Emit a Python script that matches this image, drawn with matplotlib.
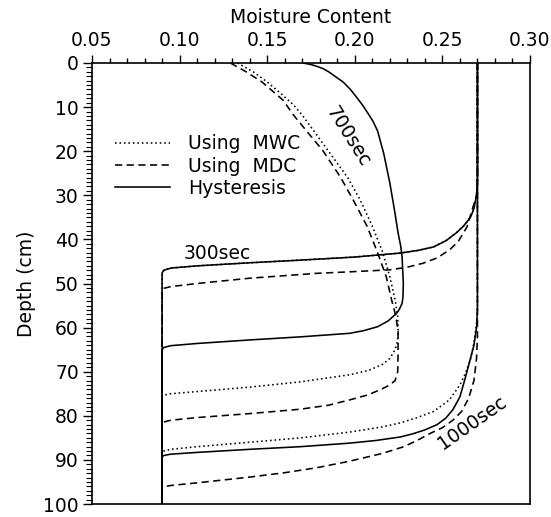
import numpy as np
import matplotlib.pyplot as plt
from matplotlib.ticker import MultipleLocator

# влажность (theta) и глубина (depth) для каждой кривой
# Hysteresis (сплошная)
hyst_300_theta = [0.270, 0.270, 0.2695, 0.268, 0.266, 0.262, 0.258, 0.252, 0.245, 0.236, 0.226,
                  0.200, 0.169, 0.140, 0.110, 0.095, 0.091, 0.090, 0.090]
hyst_300_depth = [0, 26, 30, 33, 35, 37, 38.5, 40.3, 41.7, 42.5, 43.1,
                  44.0, 44.7, 45.3, 46.0, 46.5, 47.0, 47.6, 100]

hyst_700_theta = [0.1704, 0.1745, 0.1780, 0.1820, 0.1855, 0.1890, 0.1933, 0.1975, 0.2013, 0.2045,
                  0.2075, 0.2105, 0.2130, 0.2165, 0.2200, 0.2225, 0.2247, 0.2262,
                  0.227, 0.2277, 0.2275, 0.227, 0.2255, 0.224, 0.219, 0.213, 0.205, 0.197,
                  0.169, 0.140, 0.110, 0.095, 0.091, 0.090, 0.090]
hyst_700_depth = [0, 0.3, 0.7, 1.3, 2.1, 3.1, 4.3, 6.0, 7.9, 9.6,
                  11.4, 13.3, 15.4, 20.5, 27.2, 33, 38.5, 41.5,
                  44, 50, 53, 54.5, 55.8, 56.7, 58.5, 59.8, 60.7, 61.3,
                  62.1, 62.8, 63.6, 64.1, 64.5, 65.0, 100]

hyst_1000_theta = [0.270, 0.270, 0.2695, 0.268, 0.266, 0.263, 0.260, 0.256, 0.252, 0.247, 0.240,
                   0.233, 0.226, 0.212, 0.197, 0.169, 0.140, 0.110, 0.095, 0.091, 0.090, 0.090]
hyst_1000_depth = [0, 56, 60, 64, 67, 71.5, 75.7, 78.6, 80.5, 82.0, 83.2,
                   84.1, 84.8, 85.6, 86.2, 87.0, 87.6, 88.3, 88.7, 89.0, 89.3, 100]

# Using MWC (точки); на 300 сек совпадает с Hysteresis
mwc_300_theta = hyst_300_theta
mwc_300_depth = hyst_300_depth

mwc_700_theta = [0.133, 0.142, 0.150, 0.158, 0.165, 0.170, 0.185, 0.196, 0.203, 0.210, 0.216,
                 0.220, 0.223, 0.2245, 0.2248, 0.2245, 0.223, 0.220, 0.216, 0.208, 0.197,
                 0.169, 0.140, 0.110, 0.095, 0.091, 0.090, 0.090]
mwc_700_depth = [0, 2, 4.3, 7.0, 9.5, 11.8, 20, 26, 31, 37, 43,
                 48.5, 53.7, 57.5, 61, 63, 65, 67, 68.3, 69.7, 70.7,
                 72.3, 73.5, 74.5, 75.0, 75.3, 75.6, 100]

mwc_1000_theta = [0.270, 0.270, 0.2695, 0.268, 0.266, 0.263, 0.260, 0.254, 0.245, 0.235, 0.226,
                  0.216, 0.197, 0.169, 0.140, 0.110, 0.095, 0.091, 0.090, 0.090]
mwc_1000_depth = [0, 55, 59, 63.5, 67.3, 70.5, 73.0, 76.4, 79.0, 80.5, 81.6,
                  82.5, 83.7, 85.0, 86.0, 87.0, 87.6, 88.0, 88.3, 100]

# Using MDC (штрихи)
mdc_300_theta = [0.270, 0.270, 0.2695, 0.2675, 0.264, 0.259, 0.254, 0.247, 0.239, 0.230, 0.220,
                 0.200, 0.178, 0.140, 0.110, 0.095, 0.091, 0.090, 0.090]
mdc_300_depth = [0, 27, 30, 32.6, 37.2, 40.5, 42.4, 44.2, 45.4, 46.3, 46.9,
                 47.3, 47.7, 48.8, 50.0, 50.7, 51.1, 51.5, 100]

mdc_700_theta = [0.129, 0.138, 0.147, 0.159, 0.165, 0.182, 0.192, 0.199, 0.207, 0.213, 0.218,
                 0.221, 0.2235, 0.2247, 0.2247, 0.2245, 0.223, 0.220, 0.216, 0.208, 0.197,
                 0.185, 0.169, 0.140, 0.110, 0.095, 0.091, 0.090, 0.090]
mdc_700_depth = [0, 2, 4.3, 8.4, 11.8, 20, 26, 31, 37, 43, 48.5,
                 53.7, 57.5, 61, 66, 70, 72, 73, 73.8, 75.2, 76.4,
                 77.6, 78.5, 79.5, 80.4, 81.0, 81.4, 81.9, 100]

mdc_1000_theta = [0.270, 0.270, 0.2695, 0.268, 0.265, 0.261, 0.256, 0.250, 0.243, 0.236, 0.228,
                  0.216, 0.197, 0.178, 0.160, 0.140, 0.110, 0.095, 0.091, 0.090, 0.090]
mdc_1000_depth = [0, 62, 67, 72, 76, 79, 81, 82.7, 84.0, 85.5, 87.0,
                  88.5, 90.3, 91.8, 92.9, 93.9, 95.2, 95.8, 96.1, 96.4, 100]

# подписи времени: текст, положение (theta, depth), угол
time_labels = ["300sec", "700sec", "1000sec"]
time_pos = [(0.1215, 43.3), (0.196, 16.8), (0.267, 81.6)]
time_rot = [0, -58, 35]

fs = 13.5
plt.rcParams['font.family'] = ['DejaVu Sans']

fig = plt.figure(figsize=(5.51, 5.17), dpi=100)
ax = fig.add_axes([92 / 551, 13 / 517, 438 / 551, 441 / 517])

dotted = (0, (1, 1.8))
dashed = (0, (4.5, 2.8))
lw = 1.15

# Hysteresis
for th, d in [(hyst_300_theta, hyst_300_depth), (hyst_700_theta, hyst_700_depth),
              (hyst_1000_theta, hyst_1000_depth)]:
    ax.plot(th, d, color='black', lw=lw, linestyle='-')
# MWC
for th, d in [(mwc_300_theta, mwc_300_depth), (mwc_700_theta, mwc_700_depth),
              (mwc_1000_theta, mwc_1000_depth)]:
    ax.plot(th, d, color='black', lw=lw, linestyle=dotted)
# MDC
for th, d in [(mdc_300_theta, mdc_300_depth), (mdc_700_theta, mdc_700_depth),
              (mdc_1000_theta, mdc_1000_depth)]:
    ax.plot(th, d, color='black', lw=lw, linestyle=dashed)

# легенда
h_mwc, = ax.plot([], [], color='black', lw=lw, linestyle=dotted)
h_mdc, = ax.plot([], [], color='black', lw=lw, linestyle=dashed)
h_hys, = ax.plot([], [], color='black', lw=lw, linestyle='-')
ax.legend([h_mwc, h_mdc, h_hys], ["Using  MWC", "Using  MDC", "Hysteresis"],
          loc='upper left', bbox_to_anchor=(0.053, 0.838), frameon=False,
          fontsize=fs, handlelength=2.9, handletextpad=1.0, labelspacing=0.17,
          borderaxespad=0, borderpad=0)

for txt, (x, y), r in zip(time_labels, time_pos, time_rot):
    ax.text(x, y, txt, fontsize=fs, rotation=r, rotation_mode='anchor',
            ha='center', va='center')

ax.set_xlim(0.05, 0.30)
ax.set_ylim(100, 0)
ax.xaxis.tick_top()
ax.xaxis.set_label_position('top')
ax.set_xlabel("Moisture Content", fontsize=fs, labelpad=6)
ax.set_ylabel("Depth (cm)", fontsize=fs, labelpad=5)

ax.xaxis.set_major_locator(MultipleLocator(0.05))
ax.xaxis.set_minor_locator(MultipleLocator(0.01))
ax.yaxis.set_major_locator(MultipleLocator(10))
ax.yaxis.set_minor_locator(MultipleLocator(1))
ax.xaxis.set_major_formatter(plt.FormatStrFormatter('%.2f'))

ax.tick_params(axis='x', which='major', direction='out', length=6, width=1, pad=3, labelsize=fs)
ax.tick_params(axis='x', which='minor', direction='out', length=3.5, width=1)
ax.tick_params(axis='y', which='major', direction='out', length=6.5, width=1, pad=3, labelsize=fs)
ax.tick_params(axis='y', which='minor', direction='out', length=4, width=0.8)
ax.tick_params(which='both', bottom=False, right=False, labelbottom=False)

for s in ax.spines.values():
    s.set_linewidth(1.2)

fig.savefig("out.png", dpi=100)
